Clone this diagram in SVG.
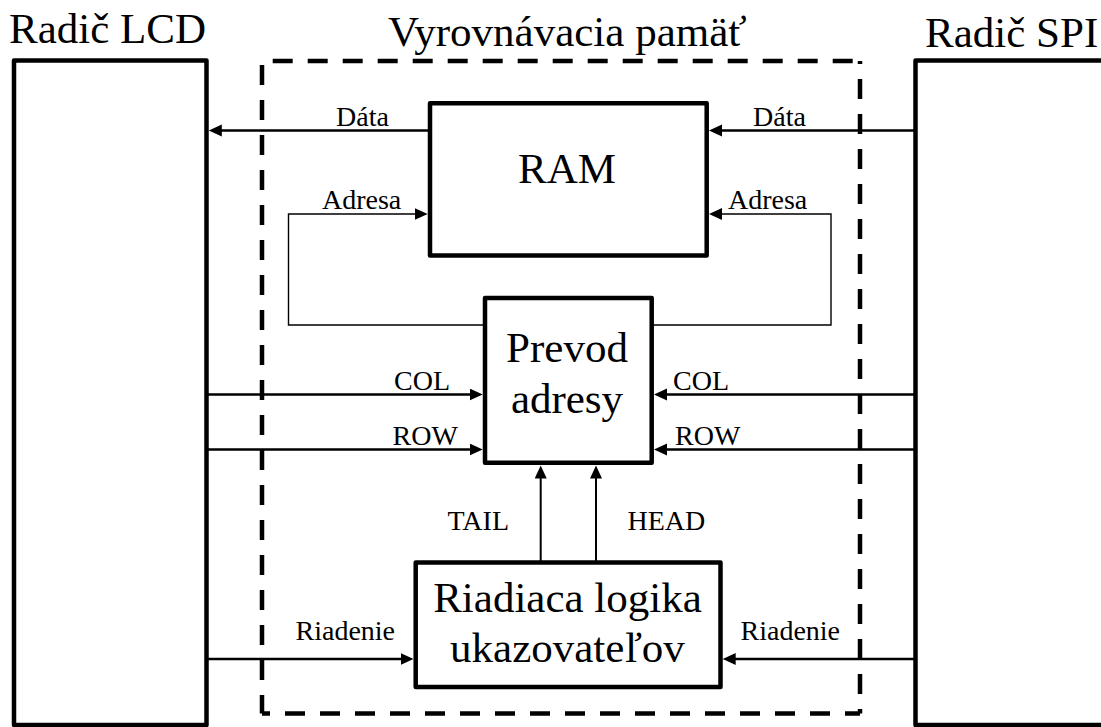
<svg xmlns="http://www.w3.org/2000/svg" width="1101" height="727" viewBox="0 0 1101 727">
  <style>
    text { fill: #000; }
    .title { font-size: 43px; }
    .big { font-size: 43px; text-anchor: middle; }
    .lbl { font-size: 28px; }
    .box { fill: #fff; stroke: #000; stroke-width: 4.5; stroke-linejoin: round; }
    .bus { fill: none; stroke: #000; stroke-width: 2.5; }
    .thin { fill: none; stroke: #000; stroke-width: 1.4; }
    .ptr { fill: none; stroke: #000; stroke-width: 2; }
    .dash { fill: none; stroke: #000; stroke-width: 4.5; }
  </style>
  <defs>
    <marker id="arrow" markerUnits="userSpaceOnUse" markerWidth="14" markerHeight="13" refX="5" refY="6" orient="auto">
      <path d="M0,0 L13,6 L0,12 z" fill="#000"/>
    </marker>
  </defs>

  <rect width="1101" height="727" fill="#fff"/>

  <g font-family="Liberation Serif, Tinos, Times New Roman, DejaVu Serif, serif">
  <!-- outer controllers -->
  <g id="lcd">
    <rect class="box" x="14" y="60.5" width="192.5" height="664.5"/>
    <text class="title" x="9" y="43">Radič LCD</text>
  </g>
  <g id="spi">
    <rect class="box" x="915.5" y="60.5" width="220" height="664.5"/>
    <text class="title" x="925" y="46.5">Radič SPI</text>
  </g>

  <!-- buffer boundary -->
  <g id="buffer">
    <path class="dash" d="M262,61 H860" stroke-dasharray="20,15" stroke-dashoffset="24.3"/>
    <path class="dash" d="M262,65 V713.5" stroke-dasharray="20,15"/>
    <path class="dash" d="M860,61 V713.5" stroke-dasharray="20,15" stroke-dashoffset="17"/>
    <path class="dash" d="M860,713.5 H262" stroke-dasharray="20,15" stroke-dashoffset="5"/>
    <text class="title" x="388" y="46">Vyrovnávacia pamäť</text>
  </g>

  <!-- connectors -->
  <g id="connectors">
    <path class="bus" d="M430,130.5 H216.8" marker-end="url(#arrow)"/>
    <path class="bus" d="M915.5,130.5 H717" marker-end="url(#arrow)"/>
    <path class="thin" d="M485,325 H288.5 V214 H419.7" marker-end="url(#arrow)"/>
    <path class="thin" d="M651.7,325 H831 V214 H717" marker-end="url(#arrow)"/>
    <path class="bus" d="M207,394.5 H474.7" marker-end="url(#arrow)"/>
    <path class="bus" d="M207,449.5 H474.7" marker-end="url(#arrow)"/>
    <path class="bus" d="M915.5,394.5 H662" marker-end="url(#arrow)"/>
    <path class="bus" d="M915.5,449.5 H662" marker-end="url(#arrow)"/>
    <path class="ptr" d="M540.7,562.5 V473.5" marker-end="url(#arrow)"/>
    <path class="ptr" d="M596,562.5 V473.5" marker-end="url(#arrow)"/>
    <path class="bus" d="M207,659 H405.5" marker-end="url(#arrow)"/>
    <path class="bus" d="M915.5,659 H730.7" marker-end="url(#arrow)"/>

    <text class="lbl" x="336" y="126">Dáta</text>
    <text class="lbl" x="753" y="126">Dáta</text>
    <text class="lbl" x="322" y="209">Adresa</text>
    <text class="lbl" x="728" y="209">Adresa</text>
    <text class="lbl" x="394" y="390">COL</text>
    <text class="lbl" x="392.5" y="445">ROW</text>
    <text class="lbl" x="673" y="390">COL</text>
    <text class="lbl" x="675" y="445">ROW</text>
    <text class="lbl" x="447.5" y="530">TAIL</text>
    <text class="lbl" x="627.5" y="530">HEAD</text>
    <text class="lbl" x="295.5" y="640">Riadenie</text>
    <text class="lbl" x="740.5" y="640">Riadenie</text>
  </g>

  <!-- inner blocks -->
  <g id="ram">
    <rect class="box" x="430" y="103.3" width="276.7" height="152.2"/>
    <text class="big" x="567" y="182.7">RAM</text>
  </g>
  <g id="prevod">
    <rect class="box" x="485" y="298" width="166.7" height="164.7"/>
    <text class="big" x="567" y="361.7">Prevod</text>
    <text class="big" x="567" y="413.3">adresy</text>
  </g>
  <g id="riadiaca">
    <rect class="box" x="415.7" y="562.5" width="304.8" height="124.5"/>
    <text class="big" x="567.5" y="611.7">Riadiaca logika</text>
    <text class="big" x="567.5" y="661.7">ukazovateľov</text>
  </g>
  </g>
</svg>
